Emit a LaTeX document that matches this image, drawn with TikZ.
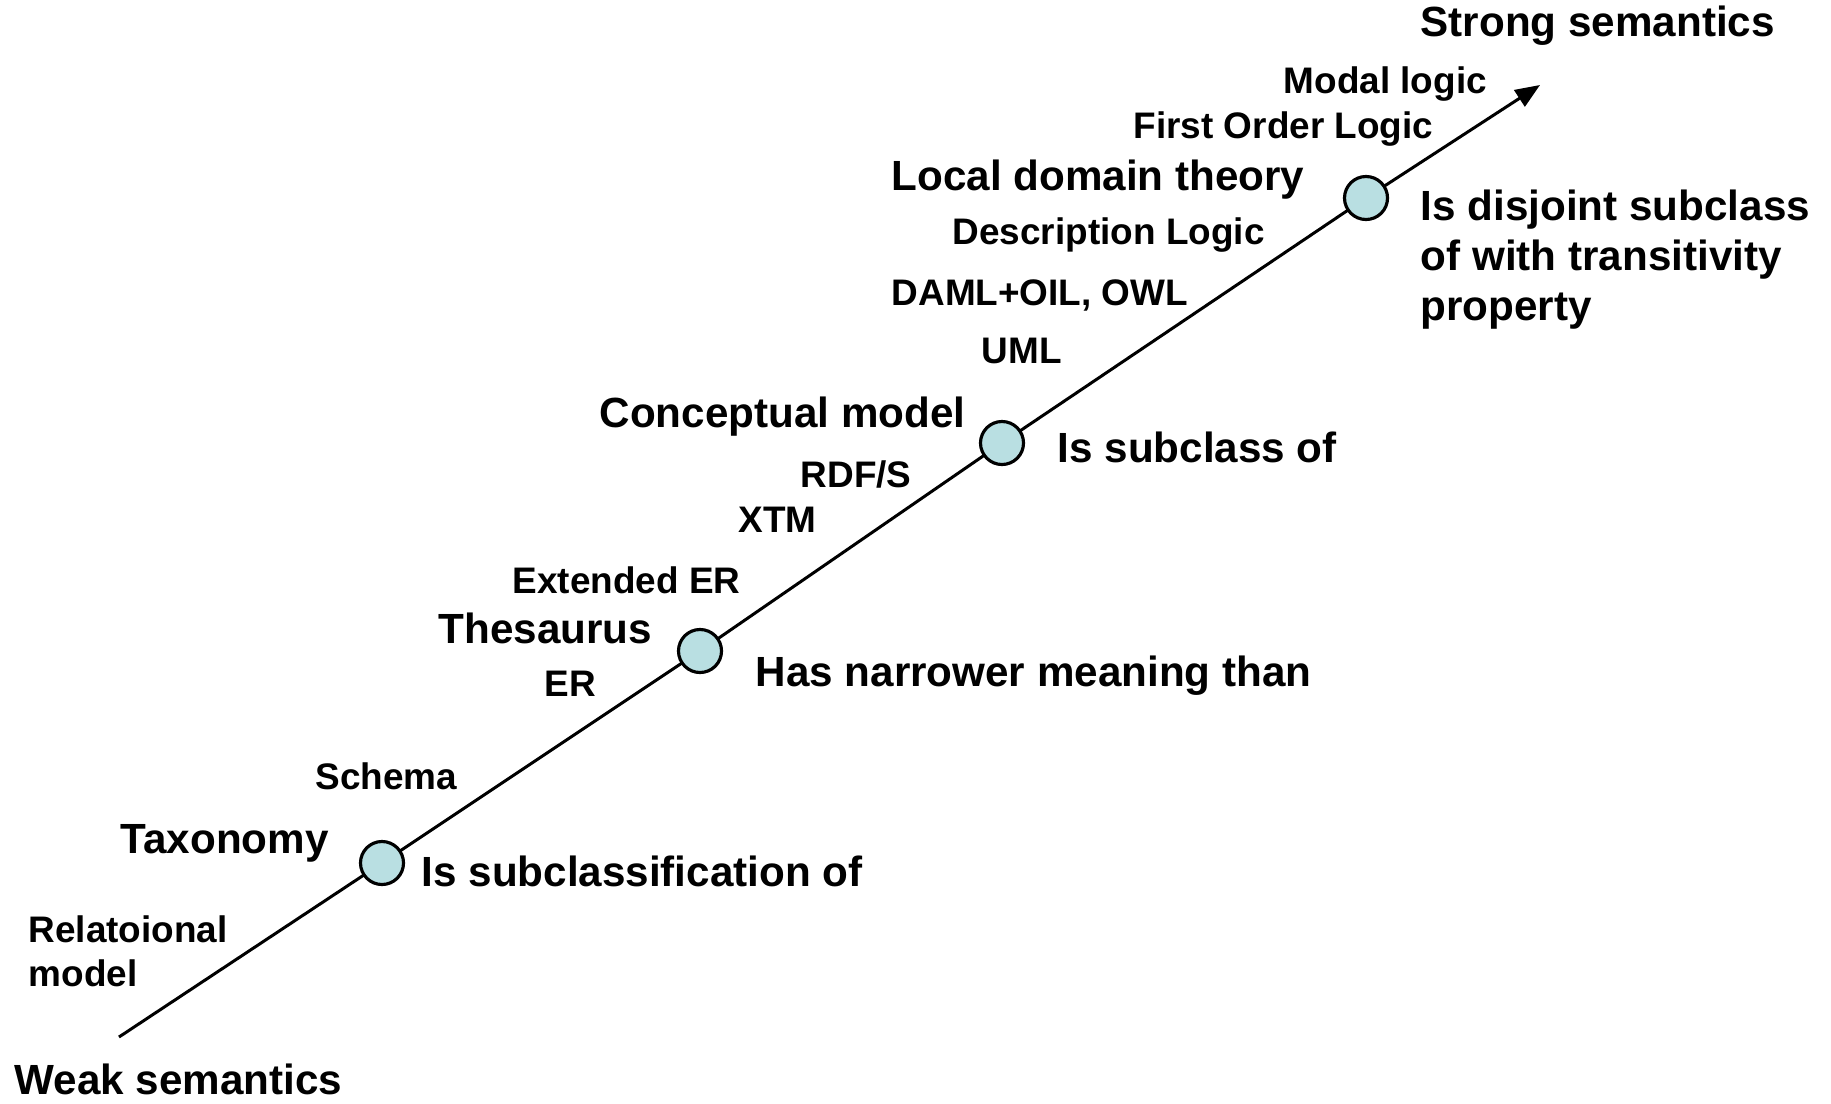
\documentclass[tikz,border=0pt]{standalone}
\usepackage{fontspec}
\setmainfont{Liberation Sans}
\usetikzlibrary{arrows.meta}
\definecolor{dotfill}{RGB}{185,223,226}
\tikzset{
  big/.style={anchor=base west,inner sep=0pt,align=left,font=\bfseries\fontsize{12}{14.2}\selectfont},
  small/.style={anchor=base west,inner sep=0pt,align=left,font=\bfseries\fontsize{10.5}{12.5}\selectfont},
  dot/.style={circle,draw,line width=0.9pt,fill=dotfill,minimum size=0.43cm,inner sep=0pt}
}
\begin{document}
\begin{tikzpicture}[x=0.01cm,y=-0.01cm]
  \useasboundingbox (0,0) rectangle (1831,1103);
  \coordinate (W) at (119,1037);
  \coordinate (S) at (1540,85);
  \foreach \i/\p in {1/{382,863},2/{700,651},3/{1002,443},4/{1366,198}} {
    \coordinate (c\i) at (\p);
  }
  \draw[line width=0.85pt,-{Triangle[length=7pt,width=5.5pt]}] (W)--(c1)--(c2)--(c3)--(c4)--(S);
  \foreach \i in {1,...,4}{\node[dot] (C\i) at (c\i) {};}
  % ends of the scale
  \node[big] (weak) at (14,1094) {Weak semantics};
  \node[big] (strong) at (1420,36) {Strong semantics};
  % kinds of models, left of the line
  \node[big] (tax) at (120,853) {Taxonomy};
  \node[big] (thes) at (438,643) {Thesaurus};
  \node[big] (conc) at (599,427) {Conceptual model};
  \node[big] (ldt) at (891,190) {Local domain theory};
  % relation at each circle (base = last line for the wrapped ones)
  \node[big] (rel1) at (421,886) {Is subclassification of};
  \node[big] (rel2) at (755,686) {Has narrower meaning than};
  \node[big] (rel3) at (1057,462) {Is subclass of};
  \node[big] (rel4) at (1420,320) {Is disjoint subclass\\of with transitivity\\property};
  % languages
  \node[small] (relm) at (28,986) {Relatoional\\model};
  \node[small] (sch) at (315,789) {Schema};
  \node[small] (er) at (544,696) {ER};
  \node[small] (eer) at (512,593) {Extended ER};
  \node[small] (xtm) at (738,532) {XTM};
  \node[small] (rdfs) at (800,487) {RDF/S};
  \node[small] (uml) at (981,363) {UML};
  \node[small] (owl) at (891,305) {DAML+OIL, OWL};
  \node[small] (dl) at (952,244) {Description Logic};
  \node[small] (fol) at (1133,138) {First Order Logic};
  \node[small] (modal) at (1283,93) {Modal logic};
\end{tikzpicture}
\end{document}
